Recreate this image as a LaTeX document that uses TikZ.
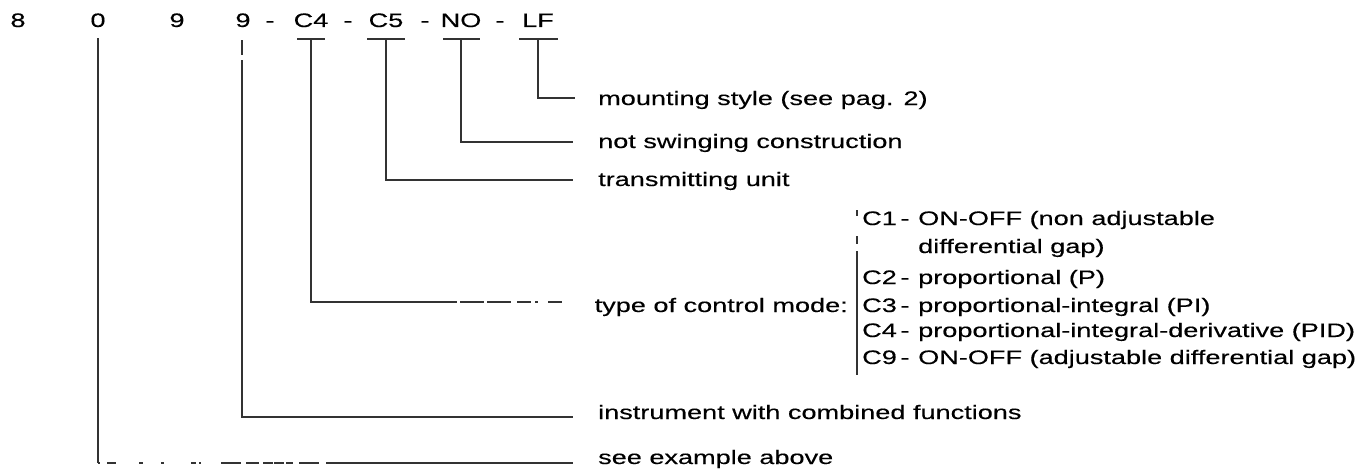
\documentclass[tikz,border=0pt]{standalone}
\usepackage{fontspec}
\setmainfont[FakeStretch=1.39,FakeBold=0.3]{Liberation Sans}
\begin{document}
\begin{tikzpicture}[x=1pt,y=-1pt,
  txt/.style={anchor=base west,inner sep=0pt,font=\fontsize{19.5}{24}\selectfont,text=black},
  txte/.style={anchor=base east,inner sep=0pt,font=\fontsize{19.5}{24}\selectfont,text=black},
  code/.style={anchor=base,inner sep=0pt,font=\fontsize{19.5}{24}\selectfont,text=black},
  ln/.style={draw=black!80,line width=2.2pt},
  ubar/.style={fill=black!80,inner sep=0pt,minimum height=2.2pt,minimum width=#1},
]
\useasboundingbox (0,0) rectangle (1365,471);

% code row
\node[code] (d8) at (18,27) {8};
\node[code] (d0) at (98,27) {0};
\node[code] (d9a) at (177,27) {9};
\node[code] (d9b) at (243,27) {9};
\node[code] (h1) at (270,27) {-};
\node[code] (cC4) at (311,27) {C4};
\node[code] (h2) at (348,27) {-};
\node[code] (cC5) at (386,27) {C5};
\node[code] (h3) at (425,27) {-};
\node[code] (cNO) at (461,27) {NO};
\node[code] (h4) at (500,27) {-};
\node[code] (cLF) at (538,27) {LF};

% underlines
\node[ubar=28pt] (uC4) at (311,39) {};
\node[ubar=38pt] (uC5) at (386,39) {};
\node[ubar=37pt] (uNO) at (461,39) {};
\node[ubar=39pt] (uLF) at (538,39) {};

% labels
\node[txt] (lLF) at (598,105) {mounting style (see pag. 2)};
\node[txt] (lNO) at (598,148) {not swinging construction};
\node[txt] (lC5) at (598,186) {transmitting unit};
\node[txte] (lC4) at (848,312) {type of control mode:};
\node[txt] (l9) at (598,419) {instrument with combined functions};
\node[txt] (l0) at (598,464) {see example above};

% list of control modes
\node[txt] (k1) at (862,225) {C1};
\node[code] (m1) at (905,225) {-};
\node[txt] (t1) at (918,225) {ON-OFF (non adjustable};
\node[txt] (t1b) at (918,253) {differential gap)};
\node[txt] (k2) at (862,284) {C2};
\node[code] (m2) at (905,284) {-};
\node[txt] (t2) at (918,284) {proportional (P)};
\node[txt] (k3) at (862,312) {C3};
\node[code] (m3) at (905,312) {-};
\node[txt] (t3) at (918,312) {proportional-integral (PI)};
\node[txt] (k4) at (862,337) {C4};
\node[code] (m4) at (905,337) {-};
\node[txt] (t4) at (918,337) {proportional-integral-derivative (PID)};
\node[txt] (k9) at (862,364) {C9};
\node[code] (m9) at (905,364) {-};
\node[txt] (t9) at (918,364) {ON-OFF (adjustable differential gap)};

% bracket bar
\coordinate (b0) at (857,210);
\coordinate (b1) at (857,251);
\coordinate (b2) at (857,375);
\draw[ln,line width=1.8pt,dash pattern=on 6pt off 20pt on 8pt off 20pt] (b0) -- (b1);
\draw[ln,line width=1.8pt] (b1) -- (b2);

% line ends
\coordinate (eLF) at (575,98);
\coordinate (eNO) at (573,142);
\coordinate (eC5) at (573,180);
\coordinate (kC4) at (430,302);
\coordinate (eC4) at (562,302);
\coordinate (s9) at (242,40);
\coordinate (s9b) at (242,60);
\coordinate (e9) at (573,417);
\coordinate (s0) at (98,38);
\coordinate (k0) at (98,463);
\coordinate (m0) at (326,463);
\coordinate (e0) at (573,463);

% connectors
\draw[ln] (uLF.center) |- (eLF);
\draw[ln] (uNO.center) |- (eNO);
\draw[ln] (uC5.center) |- (eC5);
\draw[ln] (uC4.center) |- (kC4);
\draw[ln,dash pattern=on 27pt off 3pt on 24pt off 3pt on 24pt off 6pt on 14pt off 4pt on 3pt off 10pt on 18pt] (kC4) -- (eC4);
\draw[ln] (s9) -- ([yshift=-15pt]s9);
\draw[ln] (s9b) |- (e9);
\draw[ln] (s0) -- (k0);
\draw[ln,dash pattern=on 2pt off 7pt on 9pt off 23pt on 4pt off 18pt on 3pt off 27pt on 5pt off 3pt on 2pt off 20pt on 20pt off 5pt on 13pt off 4pt on 10pt off 1pt on 10pt off 2pt on 7pt off 6pt on 20pt off 7pt] (k0) -- (m0);
\draw[ln] (m0) -- (e0);
\end{tikzpicture}
\end{document}
